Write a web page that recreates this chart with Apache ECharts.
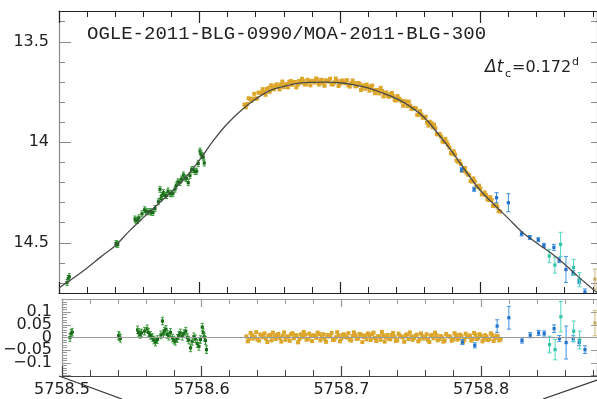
<!DOCTYPE html>
<html>
<head>
<meta charset="utf-8">
<script src="https://cdn.jsdelivr.net/npm/echarts@6/dist/echarts.min.js"></script>
<style>html,body{margin:0;padding:0;background:#fff}#c{width:597px;height:399px}</style>
</head>
<body>
<div id="c"></div>
<script>
// ---------------- data ----------------
const titleText = 'OGLE-2011-BLG-0990/MOA-2011-BLG-300';
const xTickLabels = [5758.5, 5758.6, 5758.7, 5758.8];
const magTickLabels = [13.5, 14, 14.5];
const magMinorTicks = [13.4,13.5,13.6,13.7,13.8,13.9,14.0,14.1,14.2,14.3,14.4,14.5,14.6,14.7];
const resTickLabelsA = [-0.1, 0, 0.1];
const resTickLabelsB = [-0.05, 0.05];
const resMajorTicks = [-0.15, -0.1, -0.05, 0, 0.05, 0.1, 0.15];
const resMinorTicks = [-0.15,-0.14,-0.13,-0.12,-0.11,-0.1,-0.09,-0.08,-0.07,-0.06,-0.05,-0.04,-0.03,-0.02,-0.01,0,0.01,0.02,0.03,0.04,0.05,0.06,0.07,0.08,0.09,0.1,0.11,0.12,0.13,0.14,0.15];

// model light curve
const modelT = [5758.50,5758.51,5758.52,5758.53,5758.54,5758.55,5758.56,5758.57,5758.58,5758.59,5758.60,5758.61,5758.62,5758.63,5758.64,5758.65,5758.66,5758.67,5758.68,5758.69,5758.70,5758.71,5758.72,5758.73,5758.74,5758.75,5758.76,5758.77,5758.78,5758.79,5758.80,5758.81,5758.82,5758.83,5758.84,5758.85,5758.86,5758.87,5758.88,5758.883];
const modelMag = [14.725,14.677,14.626,14.569,14.515,14.442,14.375,14.311,14.247,14.176,14.089,13.991,13.907,13.840,13.785,13.743,13.722,13.707,13.702,13.701,13.704,13.714,13.730,13.754,13.782,13.822,13.877,13.959,14.049,14.148,14.240,14.312,14.380,14.449,14.501,14.550,14.607,14.671,14.730,14.748];

// green data set
const greenT = [5758.5057,5758.5066,5758.5073,5758.5406,5758.5411,5758.5418,5758.5541,5758.5548,5758.5559,5758.5569,5758.5591,5758.5609,5758.5619,5758.5633,5758.5648,5758.5658,5758.5669,5758.5683,5758.5708,5758.5719,5758.5726,5758.5733,5758.5744,5758.5754,5758.5765,5758.5776,5758.5790,5758.5801,5758.5811,5758.5826,5758.5836,5758.5847,5758.5861,5758.5872,5758.5886,5758.5897,5758.5907,5758.5920,5758.5932,5758.5944,5758.5956,5758.5968,5758.5980,5758.5991,5758.6004,5758.6011,5758.6020,5758.6027,5758.6034];
const greenMag = [14.698,14.678,14.669,14.504,14.506,14.508,14.382,14.388,14.389,14.376,14.356,14.336,14.343,14.346,14.345,14.348,14.349,14.330,14.296,14.234,14.280,14.265,14.251,14.264,14.265,14.243,14.255,14.256,14.254,14.233,14.214,14.197,14.200,14.183,14.163,14.178,14.180,14.201,14.165,14.137,14.136,14.145,14.144,14.105,14.044,14.059,14.067,14.074,14.103];
const greenRes = [0.000,0.016,0.021,0.008,0.003,-0.003,0.030,0.020,0.012,0.018,0.025,0.034,0.020,0.008,0.000,-0.010,-0.018,-0.008,0.010,0.065,0.015,0.025,0.032,0.012,0.005,0.020,-0.002,-0.010,-0.015,-0.004,0.008,0.018,0.005,0.015,0.025,0.000,-0.010,-0.041,-0.015,0.003,-0.005,-0.024,-0.035,-0.008,0.041,0.019,0.002,-0.012,-0.048];
const greenErr = 0.015;

// yellow data set (two interleaved runs)
const yellowT = [5758.632,5758.634,5758.636,5758.638,5758.640,5758.642,5758.644,5758.646,5758.648,5758.650,5758.652,5758.654,5758.656,5758.658,5758.660,5758.662,5758.664,5758.666,5758.668,5758.670,5758.672,5758.674,5758.676,5758.678,5758.680,5758.682,5758.684,5758.686,5758.688,5758.690,5758.692,5758.694,5758.696,5758.698,5758.700,5758.702,5758.704,5758.706,5758.708,5758.710,5758.712,5758.714,5758.716,5758.718,5758.720,5758.722,5758.724,5758.726,5758.728,5758.730,5758.732,5758.734,5758.736,5758.738,5758.740,5758.742,5758.744,5758.746,5758.748,5758.750,5758.752,5758.754,5758.756,5758.758,5758.760,5758.762,5758.764,5758.766,5758.768,5758.770,5758.772,5758.774,5758.776,5758.778,5758.780,5758.782,5758.784,5758.786,5758.788,5758.790,5758.792,5758.794,5758.796,5758.798,5758.800,5758.802,5758.804,5758.806,5758.808,5758.810,5758.812,5758.814];
const yellowMag = [13.813,13.810,13.785,13.783,13.783,13.753,13.755,13.752,13.736,13.749,13.730,13.718,13.725,13.713,13.726,13.711,13.700,13.714,13.700,13.713,13.704,13.694,13.711,13.698,13.694,13.703,13.688,13.699,13.707,13.692,13.696,13.712,13.702,13.696,13.709,13.693,13.706,13.717,13.707,13.705,13.720,13.709,13.721,13.734,13.725,13.722,13.741,13.740,13.757,13.745,13.758,13.769,13.760,13.772,13.792,13.783,13.797,13.796,13.820,13.818,13.832,13.831,13.863,13.862,13.878,13.902,13.898,13.925,13.930,13.962,13.972,13.999,14.000,14.027,14.058,14.062,14.097,14.109,14.142,14.150,14.163,14.195,14.195,14.223,14.230,14.259,14.263,14.287,14.287,14.313,14.320,14.345];
const yellowRes = [0.004,-0.006,0.009,0.002,-0.008,0.012,0.001,-0.004,0.007,-0.011,0.003,0.010,-0.002,0.006,-0.009,0.004,0.013,-0.003,0.008,-0.006,0.002,0.011,-0.007,0.005,0.009,-0.001,0.014,0.003,-0.005,0.010,0.006,-0.010,0.001,0.008,-0.004,0.012,0.000,-0.008,0.005,0.009,-0.003,0.011,0.002,-0.007,0.006,0.013,-0.002,0.004,-0.009,0.008,0.001,-0.005,0.010,0.003,-0.011,0.006,0.000,0.009,-0.006,0.004,-0.002,0.011,-0.008,0.005,0.002,-0.010,0.007,-0.003,0.009,-0.006,0.001,-0.012,0.006,0.003,-0.007,0.010,-0.004,0.005,-0.009,0.002,0.008,-0.005,0.011,-0.002,0.006,-0.008,0.003,-0.006,0.009,-0.003,0.004,-0.007];
const yellowT2 = [5758.633,5758.635,5758.637,5758.639,5758.641,5758.643,5758.645,5758.647,5758.649,5758.651,5758.653,5758.655,5758.657,5758.659,5758.661,5758.663,5758.665,5758.667,5758.669,5758.671,5758.673,5758.675,5758.677,5758.679,5758.681,5758.683,5758.685,5758.687,5758.689,5758.691,5758.693,5758.695,5758.697,5758.699,5758.701,5758.703,5758.705,5758.707,5758.709,5758.711,5758.713,5758.715,5758.717,5758.719,5758.721,5758.723,5758.725,5758.727,5758.729,5758.731,5758.733,5758.735,5758.737,5758.739,5758.741,5758.743,5758.745,5758.747,5758.749,5758.751,5758.753,5758.755,5758.757,5758.759,5758.761,5758.763,5758.765,5758.767,5758.769,5758.771,5758.773,5758.775,5758.777,5758.779,5758.781,5758.783,5758.785,5758.787,5758.789,5758.791,5758.793,5758.795,5758.797,5758.799,5758.801,5758.803,5758.805,5758.807,5758.809,5758.811,5758.813];
const yellowMag2 = [13.826,13.781,13.794,13.759,13.782,13.754,13.736,13.764,13.731,13.717,13.737,13.712,13.737,13.698,13.713,13.727,13.695,13.701,13.727,13.695,13.684,13.713,13.689,13.717,13.697,13.683,13.713,13.689,13.719,13.698,13.684,13.712,13.683,13.720,13.694,13.704,13.691,13.723,13.693,13.722,13.705,13.740,13.717,13.713,13.743,13.718,13.756,13.741,13.729,13.772,13.752,13.774,13.755,13.791,13.770,13.790,13.818,13.798,13.798,13.835,13.829,13.864,13.845,13.878,13.873,13.917,13.904,13.912,13.959,13.959,13.996,13.983,14.014,14.054,14.045,14.091,14.093,14.143,14.128,14.160,14.193,14.180,14.220,14.216,14.259,14.250,14.284,14.273,14.317,14.310,14.342];
const yellowRes2 = [-0.015,0.018,-0.004,0.021,-0.012,0.007,0.016,-0.018,0.010,0.019,-0.006,0.014,-0.016,0.020,0.003,-0.013,0.017,0.009,-0.019,0.012,0.022,-0.008,0.015,-0.014,0.006,0.019,-0.011,0.013,-0.017,0.004,0.018,-0.009,0.021,-0.015,0.011,0.002,0.017,-0.012,0.020,-0.006,0.014,-0.018,0.008,0.016,-0.010,0.019,-0.014,0.005,0.022,-0.016,0.010,-0.007,0.018,-0.013,0.015,0.003,-0.017,0.012,0.020,-0.009,0.007,-0.015,0.016,-0.004,0.013,-0.018,0.010,0.019,-0.011,0.006,-0.016,0.014,0.004,-0.013,0.017,-0.008,0.011,-0.019,0.015,0.002,-0.012,0.018,-0.006,0.013,-0.015,0.009,-0.010,0.016,-0.014,0.007,-0.011];
const yellowErr = 0.008;

// blue data set
const blueT = [5758.7866,5758.7955,5758.8115,5758.8199,5758.8293,5758.8352,5758.8412,5758.8452,5758.8523,5758.8561,5758.8609,5758.8660,5758.8703,5758.8744];
const blueMag = [14.137,14.234,14.276,14.301,14.456,14.474,14.485,14.514,14.523,14.587,14.633,14.651,14.692,14.745];
const blueRes = [-0.018,-0.031,0.045,0.078,-0.012,0.009,0.018,0.016,0.035,-0.004,-0.020,-0.005,-0.020,-0.048];
const blueErr = [0.010,0.010,0.025,0.045,0.010,0.010,0.010,0.010,0.015,0.012,0.065,0.012,0.012,0.015];

// cyan data set
const cyanT = [5758.8490,5758.8530,5758.8571,5758.8663,5758.8706];
const cyanMag = [14.566,14.611,14.508,14.623,14.684];
const cyanRes = [-0.028,-0.048,0.082,0.025,-0.010];
const cyanErr = [0.033,0.040,0.060,0.040,0.035];

// olive data set
const oliveT = [5758.8815];
const oliveMag = [14.681];
const oliveRes = [0.057];
const oliveErr = [0.050];

// ---------------- chart ----------------
const X_MIN = 5758.5, X_MAX = 5758.883;
const FONT = 'DejaVu Sans';

function errItem(fill, stroke, size, cap) {
  return function (params, api) {
    const x = api.value(0), y = api.value(1), e = api.value(2);
    const c = api.coord([x, y]);
    const lo = api.coord([x, y - e]);
    const hi = api.coord([x, y + e]);
    const ch = [
      {type: 'line', shape: {x1: c[0], y1: lo[1], x2: c[0], y2: hi[1]}, style: {stroke: stroke, lineWidth: 1}}
    ];
    if (cap > 0) {
      ch.push({type: 'line', shape: {x1: c[0] - cap, y1: lo[1], x2: c[0] + cap, y2: lo[1]}, style: {stroke: stroke, lineWidth: 1}});
      ch.push({type: 'line', shape: {x1: c[0] - cap, y1: hi[1], x2: c[0] + cap, y2: hi[1]}, style: {stroke: stroke, lineWidth: 1}});
    }
    ch.push({type: 'rect', shape: {x: c[0] - size / 2, y: c[1] - size / 2, width: size, height: size}, style: {fill: fill}});
    return {type: 'group', children: ch};
  };
}

function pack(t, v, e) {
  return t.map((ti, i) => [ti, v[i], Array.isArray(e) ? e[i] : e]);
}

const sets = [
  {t: greenT, m: greenMag, r: greenRes, e: greenErr, fill: '#1c6b1c', stroke: '#3a9a3a', size: 3.2, cap: 1.5},
  {t: yellowT.concat(yellowT2), m: yellowMag.concat(yellowMag2), r: yellowRes.concat(yellowRes2), e: yellowErr, fill: '#dca62a', stroke: '#e4b84c', size: 4, cap: 0},
  {t: blueT, m: blueMag, r: blueRes, e: blueErr, fill: '#2472cc', stroke: '#3d8fe0', size: 3.2, cap: 2},
  {t: cyanT, m: cyanMag, r: cyanRes, e: cyanErr, fill: '#2fc4a8', stroke: '#4fd6bd', size: 3.2, cap: 2},
  {t: oliveT, m: oliveMag, r: oliveRes, e: oliveErr, fill: '#c4b06a', stroke: '#cdbb7c', size: 3.2, cap: 2}
];

const series = [];
sets.forEach(s => {
  series.push({type: 'custom', xAxisIndex: 0, yAxisIndex: 0, clip: true, silent: true,
    renderItem: errItem(s.fill, s.stroke, s.size, s.cap), data: pack(s.t, s.m, s.e), z: 2});
  series.push({type: 'custom', xAxisIndex: 2, yAxisIndex: 3, clip: true, silent: true,
    renderItem: errItem(s.fill, s.stroke, s.size, s.cap), data: pack(s.t, s.r, s.e), z: 2});
});
series.push({
  type: 'line', xAxisIndex: 0, yAxisIndex: 0, smooth: 0.4, showSymbol: false, silent: true,
  lineStyle: {color: '#4a4a4a', width: 1.3}, data: modelT.map((t, i) => [t, modelMag[i]]), z: 5
});
series.push({
  type: 'line', xAxisIndex: 2, yAxisIndex: 3, data: [], silent: true, z: 1,
  markLine: {silent: true, symbol: 'none', label: {show: false}, animation: false,
    lineStyle: {color: '#9a9a9a', type: 'solid', width: 1}, data: [{yAxis: 0}]}
});

function xAx(grid, pos, lineColor, showLabel, major, minor) {
  return {
    type: 'value', gridIndex: grid, position: pos, min: X_MIN, max: X_MAX, interval: 0.1,
    axisLine: {show: true, onZero: false, lineStyle: {color: lineColor, width: 1.2}},
    axisTick: {show: true, inside: true, length: major, lineStyle: {color: lineColor, width: 1.2}},
    minorTick: {show: true, splitNumber: 5, length: minor, lineStyle: {color: lineColor, width: 1}},
    splitLine: {show: false}, minorSplitLine: {show: false},
    axisLabel: {show: showLabel, showMaxLabel: true, showMinLabel: true, margin: 6, hideOverlap: false,
      fontFamily: FONT, fontSize: 16, color: '#222',
      customValues: xTickLabels, formatter: v => Number(v).toFixed(1)}
  };
}

function yAx(grid, pos, min, max, inverse, ticks, len, color, labels, fmt, showLine) {
  return {
    type: 'value', gridIndex: grid, position: pos, min: min, max: max, inverse: inverse,
    axisLine: {show: showLine, onZero: false, lineStyle: {color: color, width: 1.2}},
    axisTick: {show: ticks !== null, inside: true, length: len, customValues: ticks || [], lineStyle: {color: color, width: 1}},
    splitLine: {show: false},
    axisLabel: labels ? {show: true, customValues: labels, margin: 10, hideOverlap: false,
      showMinLabel: true, showMaxLabel: true,
      fontFamily: FONT, fontSize: 16, color: '#222', formatter: fmt} : {show: false}
  };
}

const resFmt = v => {
  const a = Math.abs(v);
  const s = String(Math.round(a * 100) / 100);
  return v < 0 ? '\u2212' + s : s;
};

const option = {
  animation: false,
  backgroundColor: '#fff',
  grid: [
    {left: 59, top: 11, width: 538, height: 282},
    {left: 59, top: 299, width: 538, height: 77}
  ],
  xAxis: [
    xAx(0, 'bottom', '#222', false, 11, 6),
    xAx(0, 'top', '#222', false, 12, 6),
    xAx(1, 'bottom', '#444', true, 10, 6),
    xAx(1, 'top', '#999', false, 8, 5)
  ],
  yAxis: [
    yAx(0, 'left', 13.347, 14.75, true, magTickLabels, 12, '#888', magTickLabels, v => String(v), true),
    yAx(0, 'left', 13.347, 14.75, true, magMinorTicks, 6, '#888', null, null, false),
    yAx(0, 'right', 13.347, 14.75, true, magMinorTicks, 6, '#888', null, null, true),
    yAx(1, 'left', -0.152, 0.152, false, resMajorTicks, 9, '#999', resTickLabelsA, resFmt, true),
    yAx(1, 'left', -0.152, 0.152, false, resMinorTicks, 5, '#999', resTickLabelsB, resFmt, false),
    yAx(1, 'right', -0.152, 0.152, false, resMajorTicks, 6, '#999', null, null, true)
  ],
  series: series,
  graphic: [
    {type: 'text', left: 87, top: 24, silent: true,
      style: {text: titleText, font: '19px "Liberation Mono"', fill: '#222'}},
    {type: 'text', x: 485, y: 68, silent: true,
      style: {text: '\u0394t', font: 'italic 17px "DejaVu Sans"', fill: '#222', verticalAlign: 'middle'}},
    {type: 'text', x: 505, y: 74, silent: true,
      style: {text: 'c', font: '11px "DejaVu Sans"', fill: '#222', verticalAlign: 'middle'}},
    {type: 'text', x: 512, y: 68, silent: true,
      style: {text: '=0.172', font: '16px "DejaVu Sans"', fill: '#222', verticalAlign: 'middle'}},
    {type: 'text', x: 572, y: 62, silent: true,
      style: {text: 'd', font: '11px "DejaVu Sans"', fill: '#222', verticalAlign: 'middle'}},
    {type: 'line', silent: true, shape: {x1: 59, y1: 376, x2: 122, y2: 399},
      style: {stroke: '#333', lineWidth: 1.2}},
    {type: 'line', silent: true, shape: {x1: 597, y1: 380, x2: 543, y2: 399},
      style: {stroke: '#333', lineWidth: 1.2}}
  ]
};

const chart = echarts.init(document.getElementById('c'), null, {renderer: 'canvas'});
chart.setOption(option);
</script>
</body>
</html>
